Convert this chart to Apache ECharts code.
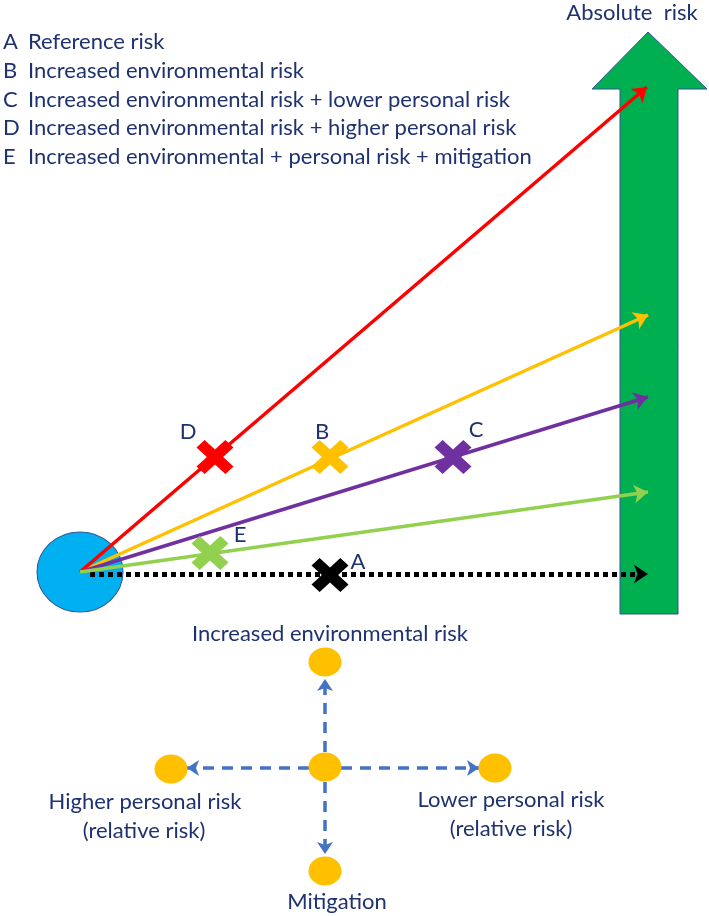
<!DOCTYPE html>
<html><head><meta charset="utf-8">
<script src="https://cdn.jsdelivr.net/npm/echarts@6/dist/echarts.min.js"></script>
<style>html,body{margin:0;padding:0;background:#fff}#c{width:709px;height:916px}</style>
</head><body><div id="c"></div>
<script>
// Scenarios
const scenarioLetters = ['A', 'B', 'C', 'D', 'E'];
const scenarioNames = ['Reference risk', 'Increased environmental risk', 'Increased environmental risk + lower personal risk', 'Increased environmental risk + higher personal risk', 'Increased environmental + personal risk + mitigation'];
const scenarioColors = ['#000000', '#FFC000', '#7030A0', '#FF0000', '#92D050'];
// pixel-space diagram coordinates (x, y down)
const origin = [80, 572];
const arrowStarts = [[90, 574], origin, origin, origin, origin];
const arrowEnds = [[648, 574], [648, 315], [648, 397], [647, 87], [648, 492]];
const crossPos = [[330, 575], [330, 457], [453, 457], [215, 457], [210, 553]];
const crossLabelPos = [[358, 562], [322, 432], [476, 430], [188, 432], [240, 535]];
const legendY = [42, 71, 100, 128, 157];
// Absolute risk arrow outline
const bigArrowX = [620, 620, 592, 648, 707, 678, 678];
const bigArrowY = [614, 89, 89, 32, 89, 89, 614];
const bigArrowTitle = 'Absolute  risk';
// Compass
const compassDots = [[325, 767], [325, 662], [171, 769], [495, 768], [325, 871]];
const compassArrowStarts = [[325, 752], [309, 768], [341, 768], [325, 782]];
const compassArrowEnds = [[325, 679], [187, 768], [479, 768], [325, 854]];
const compassTexts = ['Increased environmental risk', 'Higher personal risk', '(relative risk)', 'Lower personal risk', '(relative risk)', 'Mitigation'];
const compassTextPos = [[330, 634], [145, 802], [144, 831], [511, 800], [511, 829], [337, 902]];

const navy = '#1F3270';
const font = 'Lato';
const fontSize = 22;
const crossPath = 'path://M0,2.2 L2.2,0 L5,2.8 L7.8,0 L10,2.2 L7.2,5 L10,7.8 L7.8,10 L5,7.2 L2.2,10 L0,7.8 L2.8,5 Z';

function textSeries(items) {
  return {
    type: 'custom', coordinateSystem: 'cartesian2d', z: 20, silent: true,
    data: items.map(it => [it.x, it.y]),
    renderItem: function (params, api) {
      const p = api.coord([api.value(0), api.value(1)]);
      const it = items[params.dataIndex];
      return {
        type: 'text', x: p[0], y: p[1],
        style: { text: it.t, fill: navy, font: fontSize + 'px ' + font, align: it.align || 'center', verticalAlign: 'middle' }
      };
    }
  };
}

const chart = echarts.init(document.getElementById('c'));
const series = [];

// Big green arrow
series.push({
  type: 'custom', coordinateSystem: 'cartesian2d', z: 1, silent: true,
  data: [0],
  renderItem: function (params, api) {
    const pts = bigArrowX.map((x, i) => api.coord([x, bigArrowY[i]]));
    return { type: 'polygon', shape: { points: pts }, style: { fill: '#00B050', stroke: '#2F5597', lineWidth: 1 } };
  }
});

// Scenario arrows
scenarioLetters.forEach((l, i) => {
  series.push({
    type: 'lines', coordinateSystem: 'cartesian2d', z: 5, silent: true,
    symbol: ['none', 'arrow'], symbolSize: [0, 14],
    data: [{ coords: [arrowStarts[i], arrowEnds[i]] }],
    lineStyle: i === 0 ? { color: scenarioColors[i], width: 5, type: [5, 4], opacity: 1 } : { color: scenarioColors[i], width: 3.5, opacity: 1 },
    itemStyle: { color: scenarioColors[i], opacity: 1 }
  });
});

// Origin circle (drawn below lines)
series.push({
  type: 'scatter', z: 3, silent: true, symbol: 'circle', symbolSize: [86, 80],
  data: [origin],
  itemStyle: { color: '#00B0F0', borderColor: '#2F5597', borderWidth: 1, opacity: 1 }
});

// Crosses
series.push({
  type: 'scatter', z: 10, silent: true, symbol: crossPath, symbolSize: [37, 34],
  data: crossPos.map((p, i) => ({ value: p, itemStyle: { color: scenarioColors[i], opacity: 1 } }))
});

// Compass arrows
compassArrowStarts.forEach((s, i) => {
  series.push({
    type: 'lines', coordinateSystem: 'cartesian2d', z: 5, silent: true,
    symbol: ['none', 'arrow'], symbolSize: [0, 12],
    data: [{ coords: [s, compassArrowEnds[i]] }],
    lineStyle: { color: '#4472C4', width: 3.5, type: [11, 8], opacity: 1 },
    itemStyle: { color: '#4472C4', opacity: 1 }
  });
});

// Compass dots
series.push({
  type: 'scatter', z: 8, silent: true, symbol: 'circle', symbolSize: [33, 29],
  data: compassDots,
  itemStyle: { color: '#FFC000', opacity: 1 }
});

// Texts
const texts = [];
scenarioLetters.forEach((l, i) => {
  texts.push({ x: 3, y: legendY[i], t: l, align: 'left' });
  texts.push({ x: 28, y: legendY[i], t: scenarioNames[i], align: 'left' });
  texts.push({ x: crossLabelPos[i][0], y: crossLabelPos[i][1], t: l });
});
texts.push({ x: 632, y: 13, t: bigArrowTitle });
compassTexts.forEach((t, i) => texts.push({ x: compassTextPos[i][0], y: compassTextPos[i][1], t: t }));
series.push(textSeries(texts));

chart.setOption({
  animation: false,
  backgroundColor: '#ffffff',
  grid: { left: 0, right: 0, top: 0, bottom: 0 },
  xAxis: { type: 'value', min: 0, max: 709, show: false },
  yAxis: { type: 'value', min: 0, max: 916, inverse: true, show: false },
  series: series
});
</script>
</body></html>
